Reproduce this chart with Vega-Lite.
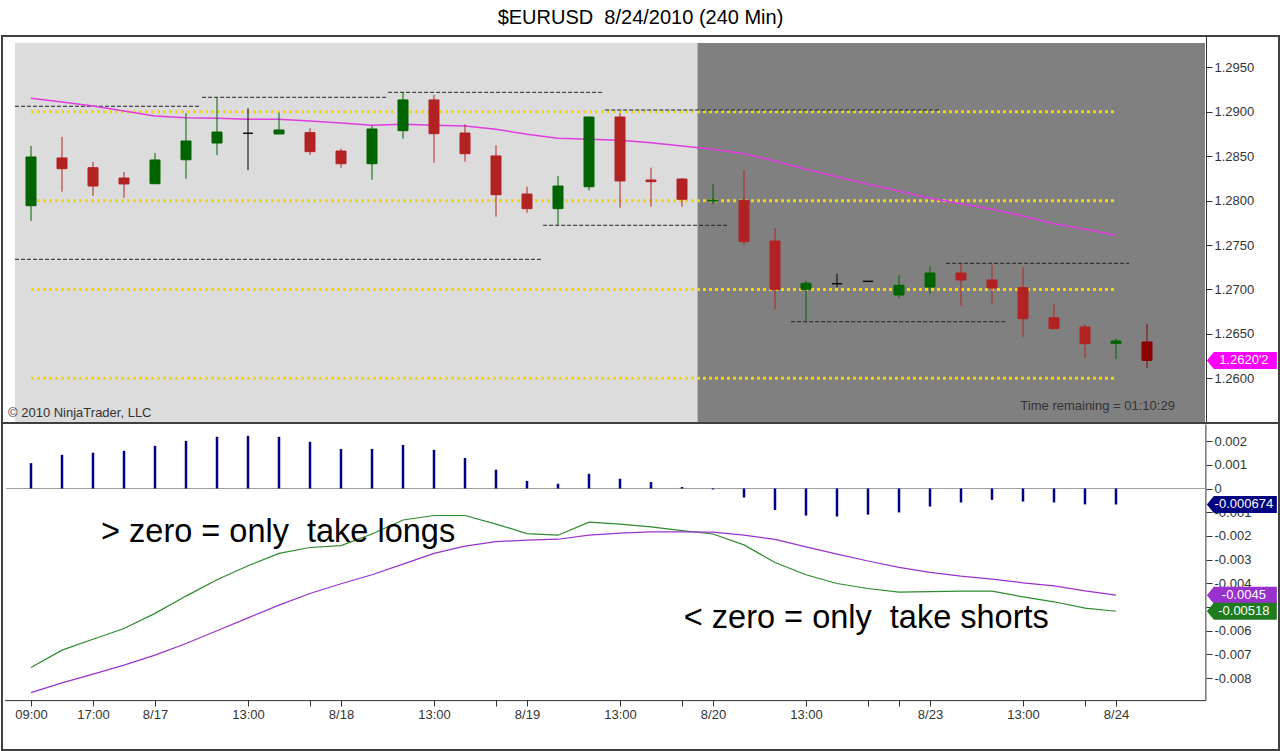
{
  "$schema": "https://vega.github.io/schema/vega-lite/v6.json",
  "padding": {"left": 1, "top": 8, "right": 2, "bottom": 2},
  "background": "white",
  "bounds": "flush",
  "title": {
    "text": "$EURUSD \u00a08/24/2010 (240 Min)",
    "anchor": "middle",
    "font": "Liberation Sans",
    "fontSize": 20,
    "fontWeight": "normal",
    "color": "#000000",
    "offset": 7
  },
  "config": {
    "font": "Liberation Sans",
    "view": {"stroke": "#404040", "strokeWidth": 2},
    "axis": {
      "labelFont": "Liberation Sans",
      "labelFontSize": 13,
      "labelColor": "#333333",
      "tickColor": "#333333",
      "domainColor": "#333333",
      "tickSize": 6,
      "labelPadding": 2,
      "labelOverlap": false,
      "grid": false
    }
  },
  "spacing": 0,
  "datasets": {
    "bars": [
      {"i": 1, "open": 1.27943, "high": 1.28616, "low": 1.27771, "close": 1.28492, "sma": 1.29153, "hist": 0.00107, "macd": -0.00755, "avg": -0.00861},
      {"i": 2, "open": 1.28481, "high": 1.28717, "low": 1.28101, "close": 1.28360, "sma": 1.29111, "hist": 0.00142, "macd": -0.00682, "avg": -0.00820},
      {"i": 3, "open": 1.28371, "high": 1.28436, "low": 1.28053, "close": 1.28165, "sma": 1.29066, "hist": 0.00151, "macd": -0.00636, "avg": -0.00783},
      {"i": 4, "open": 1.28255, "high": 1.28323, "low": 1.28034, "close": 1.28188, "sma": 1.29010, "hist": 0.00159, "macd": -0.00591, "avg": -0.00745},
      {"i": 5, "open": 1.28191, "high": 1.28537, "low": 1.28185, "close": 1.28458, "sma": 1.28953, "hist": 0.00180, "macd": -0.00527, "avg": -0.00703},
      {"i": 6, "open": 1.28461, "high": 1.28984, "low": 1.28247, "close": 1.28672, "sma": 1.28934, "hist": 0.00201, "macd": -0.00454, "avg": -0.00654},
      {"i": 7, "open": 1.28649, "high": 1.29167, "low": 1.28514, "close": 1.28773, "sma": 1.28928, "hist": 0.00218, "macd": -0.00385, "avg": -0.00600},
      {"i": 8, "open": 1.28759, "high": 1.29040, "low": 1.28345, "close": 1.28759, "sma": 1.28916, "hist": 0.00222, "macd": -0.00326, "avg": -0.00546},
      {"i": 9, "open": 1.28751, "high": 1.28991, "low": 1.28751, "close": 1.28796, "sma": 1.28916, "hist": 0.00218, "macd": -0.00274, "avg": -0.00492},
      {"i": 10, "open": 1.28766, "high": 1.28815, "low": 1.28514, "close": 1.28552, "sma": 1.28897, "hist": 0.00197, "macd": -0.00249, "avg": -0.00443},
      {"i": 11, "open": 1.28559, "high": 1.28585, "low": 1.28371, "close": 1.28416, "sma": 1.28875, "hist": 0.00167, "macd": -0.00241, "avg": -0.00402},
      {"i": 12, "open": 1.28416, "high": 1.28844, "low": 1.28236, "close": 1.28807, "sma": 1.28849, "hist": 0.00167, "macd": -0.00192, "avg": -0.00364},
      {"i": 13, "open": 1.28788, "high": 1.29224, "low": 1.28698, "close": 1.29134, "sma": 1.28860, "hist": 0.00184, "macd": -0.00133, "avg": -0.00319},
      {"i": 14, "open": 1.29134, "high": 1.29190, "low": 1.28428, "close": 1.28754, "sma": 1.28849, "hist": 0.00163, "macd": -0.00114, "avg": -0.00274},
      {"i": 15, "open": 1.28762, "high": 1.28860, "low": 1.28439, "close": 1.28529, "sma": 1.28841, "hist": 0.00129, "macd": -0.00114, "avg": -0.00243},
      {"i": 16, "open": 1.28503, "high": 1.28624, "low": 1.27820, "close": 1.28067, "sma": 1.28804, "hist": 0.00079, "macd": -0.00150, "avg": -0.00224},
      {"i": 17, "open": 1.28075, "high": 1.28157, "low": 1.27865, "close": 1.27910, "sma": 1.28747, "hist": 0.00032, "macd": -0.00190, "avg": -0.00218},
      {"i": 18, "open": 1.27910, "high": 1.28278, "low": 1.27723, "close": 1.28165, "sma": 1.28702, "hist": 0.00020, "macd": -0.00197, "avg": -0.00214},
      {"i": 19, "open": 1.28157, "high": 1.28942, "low": 1.28117, "close": 1.28942, "sma": 1.28691, "hist": 0.00062, "macd": -0.00142, "avg": -0.00197},
      {"i": 20, "open": 1.28942, "high": 1.28984, "low": 1.27921, "close": 1.28222, "sma": 1.28680, "hist": 0.00041, "macd": -0.00150, "avg": -0.00188},
      {"i": 21, "open": 1.28233, "high": 1.28371, "low": 1.27932, "close": 1.28214, "sma": 1.28653, "hist": 0.00027, "macd": -0.00162, "avg": -0.00183},
      {"i": 22, "open": 1.28244, "high": 1.28255, "low": 1.27932, "close": 1.28016, "sma": 1.28616, "hist": 0.00006, "macd": -0.00178, "avg": -0.00183},
      {"i": 23, "open": 1.27996, "high": 1.28184, "low": 1.27959, "close": 1.28006, "sma": 1.28579, "hist": -0.00004, "macd": -0.00192, "avg": -0.00184},
      {"i": 24, "open": 1.28004, "high": 1.28342, "low": 1.27501, "close": 1.27538, "sma": 1.28529, "hist": -0.00038, "macd": -0.00238, "avg": -0.00197},
      {"i": 25, "open": 1.27546, "high": 1.27696, "low": 1.26777, "close": 1.27002, "sma": 1.28447, "hist": -0.00091, "macd": -0.00312, "avg": -0.00215},
      {"i": 26, "open": 1.27002, "high": 1.27096, "low": 1.26637, "close": 1.27070, "sma": 1.28353, "hist": -0.00114, "macd": -0.00364, "avg": -0.00246},
      {"i": 27, "open": 1.27065, "high": 1.27178, "low": 1.27028, "close": 1.27065, "sma": 1.28270, "hist": -0.00118, "macd": -0.00401, "avg": -0.00277},
      {"i": 28, "open": 1.27092, "high": 1.27092, "low": 1.27092, "close": 1.27092, "sma": 1.28184, "hist": -0.00110, "macd": -0.00422, "avg": -0.00306},
      {"i": 29, "open": 1.26938, "high": 1.27160, "low": 1.26901, "close": 1.27047, "sma": 1.28109, "hist": -0.00101, "macd": -0.00437, "avg": -0.00333},
      {"i": 30, "open": 1.27028, "high": 1.27261, "low": 1.26953, "close": 1.27186, "sma": 1.28027, "hist": -0.00076, "macd": -0.00435, "avg": -0.00354},
      {"i": 31, "open": 1.27186, "high": 1.27290, "low": 1.26814, "close": 1.27107, "sma": 1.27966, "hist": -0.00059, "macd": -0.00433, "avg": -0.00370},
      {"i": 32, "open": 1.27107, "high": 1.27276, "low": 1.26844, "close": 1.27017, "sma": 1.27903, "hist": -0.00048, "macd": -0.00433, "avg": -0.00382},
      {"i": 33, "open": 1.27020, "high": 1.27253, "low": 1.26468, "close": 1.26671, "sma": 1.27828, "hist": -0.00055, "macd": -0.00457, "avg": -0.00398},
      {"i": 34, "open": 1.26682, "high": 1.26840, "low": 1.26559, "close": 1.26559, "sma": 1.27741, "hist": -0.00059, "macd": -0.00478, "avg": -0.00411},
      {"i": 35, "open": 1.26578, "high": 1.26608, "low": 1.26232, "close": 1.26390, "sma": 1.27678, "hist": -0.00067, "macd": -0.00505, "avg": -0.00432},
      {"i": 36, "open": 1.26394, "high": 1.26450, "low": 1.26214, "close": 1.26420, "sma": 1.27610, "hist": -0.000674, "macd": -0.00518, "avg": -0.00450},
      {"i": 37, "open": 1.26409, "high": 1.26615, "low": 1.26113, "close": 1.26202, "sma": null, "hist": null, "macd": null, "avg": null}
    ],
    "sessions": [
      {"from": 0.484, "to": 22.5, "session": "prior"},
      {"from": 22.5, "to": 38.87, "session": "current"}
    ],
    "levels": [
      {"price": 1.29},
      {"price": 1.28},
      {"price": 1.27},
      {"price": 1.26}
    ],
    "swings": [
      {"price": 1.29063, "from": 0.484, "to": 6.45},
      {"price": 1.29164, "from": 6.52, "to": 12.45},
      {"price": 1.29220, "from": 12.52, "to": 19.45},
      {"price": 1.29021, "from": 19.52, "to": 30.35},
      {"price": 1.27340, "from": 0.484, "to": 17.45},
      {"price": 1.27723, "from": 17.52, "to": 23.45},
      {"price": 1.27295, "from": 30.52, "to": 36.42},
      {"price": 1.26637, "from": 25.52, "to": 32.42}
    ],
    "priceMarker": [
      {"value": 1.26202, "label": "1.2620'2"}
    ],
    "macdMarkers": [
      {"series": "hist", "value": -0.000674, "label": "-0.000674"},
      {"series": "avg", "value": -0.0045, "label": "-0.0045"},
      {"series": "macd", "value": -0.00518, "label": "-0.00518"}
    ]
  },
  "vconcat": [
    {
      "width": 1277,
      "height": 387,
      "resolve": {"scale": {"color": "independent", "stroke": "independent"}},
      "layer": [
        {
          "data": {"name": "sessions"},
          "mark": "rect",
          "encoding": {
            "x": {"field": "from", "type": "quantitative", "scale": {"domain": [0.0645, 41.258], "nice": false, "zero": false, "padding": 0}, "axis": null},
            "x2": {"field": "to"},
            "y": {
              "datum": 1.29776, "type": "quantitative",
              "scale": {"domain": [1.25497, 1.29854], "nice": false, "zero": false, "padding": 0},
              "axis": {
                "orient": "right", "offset": -73, "title": null, "format": ".4f", "tickCount": 20,
                "values": [1.26, 1.265, 1.27, 1.275, 1.28, 1.285, 1.29, 1.295]
              }
            },
            "y2": {"datum": 1.25497},
            "color": {"field": "session", "type": "nominal", "scale": {"domain": ["prior", "current"], "range": ["#DCDCDC", "#808080"]}, "legend": null}
          }
        },
        {
          "data": {"name": "levels"},
          "mark": {"type": "rule", "color": "#F5D60A", "strokeWidth": 3, "strokeDash": [3, 3]},
          "encoding": {
            "x": {"datum": 1, "type": "quantitative", "axis": null},
            "x2": {"datum": 36},
            "y": {"field": "price", "type": "quantitative"}
          }
        },
        {
          "data": {"name": "swings"},
          "mark": {"type": "rule", "color": "#222222", "strokeWidth": 1, "strokeDash": [4, 2]},
          "encoding": {
            "x": {"field": "from", "type": "quantitative", "axis": null},
            "x2": {"field": "to"},
            "y": {"field": "price", "type": "quantitative"}
          }
        },
        {
          "data": {"name": "bars"},
          "transform": [{"filter": "datum.sma != null"}],
          "mark": {"type": "line", "color": "#E03CE0", "strokeWidth": 1.5},
          "encoding": {
            "x": {"field": "i", "type": "quantitative", "axis": null},
            "y": {"field": "sma", "type": "quantitative"}
          }
        },
        {
          "data": {"name": "bars"},
          "transform": [
            {"calculate": "datum.i == 37 ? 'live' : (datum.close > datum.open ? 'up' : (datum.close < datum.open ? 'down' : 'flat'))", "as": "dir"}
          ],
          "layer": [
            {
              "mark": {"type": "rule", "strokeWidth": 1},
              "encoding": {
                "x": {"field": "i", "type": "quantitative", "axis": null},
                "y": {"field": "low", "type": "quantitative"},
                "y2": {"field": "high"},
                "color": {"field": "dir", "type": "nominal", "scale": {"domain": ["up", "down", "flat", "live"], "range": ["#006400", "#B22222", "#000000", "#8B0000"]}, "legend": null}
              }
            },
            {
              "mark": {"type": "bar", "size": 10, "strokeWidth": 1},
              "encoding": {
                "x": {"field": "i", "type": "quantitative", "axis": null},
                "y": {"field": "open", "type": "quantitative"},
                "y2": {"field": "close"},
                "color": {"field": "dir", "type": "nominal", "scale": {"domain": ["up", "down", "flat", "live"], "range": ["#006400", "#B22222", "#000000", "#8B0000"]}, "legend": null},
                "stroke": {"field": "dir", "type": "nominal", "scale": {"domain": ["up", "down", "flat", "live"], "range": ["#006400", "#B22222", "#000000", "#8B0000"]}, "legend": null}
              }
            }
          ]
        },
        {
          "data": {"values": [{}]},
          "mark": {"type": "text", "text": "\u00a9 2010 NinjaTrader, LLC", "align": "left", "baseline": "alphabetic", "fontSize": 13, "color": "#333333"},
          "encoding": {
            "x": {"datum": 0.258, "type": "quantitative", "axis": null},
            "y": {"datum": 1.25564, "type": "quantitative"}
          }
        },
        {
          "data": {"values": [{}]},
          "mark": {"type": "text", "text": "Time remaining = 01:10:29", "align": "right", "baseline": "alphabetic", "fontSize": 13, "color": "#333333"},
          "encoding": {
            "x": {"datum": 37.9, "type": "quantitative", "axis": null},
            "y": {"datum": 1.25643, "type": "quantitative"}
          }
        },
        {
          "data": {"name": "priceMarker"},
          "layer": [
            {
              "mark": {"type": "point", "filled": true, "opacity": 1, "size": 4900, "strokeWidth": 0, "color": "#FF00FF", "shape": "M-1,0L-0.8,-0.243L1,-0.243L1,0.243L-0.8,0.243Z"},
              "encoding": {
                "x": {"datum": 40.06, "type": "quantitative", "axis": null},
                "y": {"field": "value", "type": "quantitative"}
              }
            },
            {
              "mark": {"type": "text", "align": "center", "baseline": "middle", "dx": 2, "fontSize": 13, "color": "#FFFFFF"},
              "encoding": {
                "x": {"datum": 40.06, "type": "quantitative", "axis": null},
                "y": {"field": "value", "type": "quantitative"},
                "text": {"field": "label"}
              }
            }
          ]
        }
      ]
    },
    {
      "width": 1277,
      "height": 327,
      "resolve": {"scale": {"color": "independent"}},
      "layer": [
        {
          "data": {"values": [{"level": 0}]},
          "mark": {"type": "rule", "color": "#A0A0A0", "strokeWidth": 1},
          "encoding": {
            "x": {
              "datum": 0.19, "type": "quantitative",
              "scale": {"domain": [0.0645, 41.258], "nice": false, "zero": false, "padding": 0},
              "axis": {
                "orient": "bottom", "offset": -50, "title": null, "domain": false, "tickCount": 40,
                "values": [1, 3, 5, 8, 10, 11, 14, 16, 17, 20, 22, 23, 26, 28, 29, 30, 33, 35, 36],
                "labelExpr": "['', '09:00', '', '17:00', '', '8/17', '', '', '13:00', '', '', '8/18', '', '', '13:00', '', '', '8/19', '', '', '13:00', '', '', '8/20', '', '', '13:00', '', '', '', '8/23', '', '', '13:00', '', '', '8/24'][datum.value]"
              }
            },
            "x2": {"datum": 38.87},
            "y": {
              "field": "level", "type": "quantitative",
              "scale": {"domain": [-0.011034, 0.002764], "nice": false, "zero": false},
              "axis": {
                "orient": "right", "offset": -73, "title": null, "domain": false, "tickCount": 20,
                "values": [0.002, 0.001, 0, -0.001, -0.002, -0.003, -0.004, -0.005, -0.006, -0.007, -0.008],
                "labelExpr": "datum.value == 0 ? '0' : (datum.value < 0 ? '-' : '') + format(abs(datum.value), '.3f')"
              }
            }
          }
        },
        {
          "data": {"values": [{}]},
          "layer": [
            {
              "mark": {"type": "rule", "color": "#333333", "strokeWidth": 1},
              "encoding": {
                "x": {"datum": 0.16, "type": "quantitative"},
                "x2": {"datum": 38.9},
                "y": {"datum": -0.00895, "type": "quantitative"}
              }
            },
            {
              "mark": {"type": "rule", "color": "#333333", "strokeWidth": 1},
              "encoding": {
                "x": {"datum": 38.9, "type": "quantitative"},
                "y": {"datum": 0.0027, "type": "quantitative"},
                "y2": {"datum": -0.00895}
              }
            }
          ]
        },
        {
          "data": {"name": "bars"},
          "transform": [{"filter": "datum.hist != null"}],
          "mark": {"type": "rule", "color": "#000080", "strokeWidth": 2.5},
          "encoding": {
            "x": {"field": "i", "type": "quantitative"},
            "y": {"field": "hist", "type": "quantitative"},
            "y2": {"datum": 0}
          }
        },
        {
          "data": {"name": "bars"},
          "transform": [{"filter": "datum.macd != null"}],
          "mark": {"type": "line", "color": "#2E8B2E", "strokeWidth": 1.2},
          "encoding": {
            "x": {"field": "i", "type": "quantitative"},
            "y": {"field": "macd", "type": "quantitative"}
          }
        },
        {
          "data": {"name": "bars"},
          "transform": [{"filter": "datum.avg != null"}],
          "mark": {"type": "line", "color": "#9932CC", "strokeWidth": 1.2},
          "encoding": {
            "x": {"field": "i", "type": "quantitative"},
            "y": {"field": "avg", "type": "quantitative"}
          }
        },
        {
          "data": {"values": [{}]},
          "mark": {"type": "text", "text": "> zero = only \u00a0take longs", "align": "left", "baseline": "alphabetic", "fontSize": 32.5, "color": "#000000"},
          "encoding": {
            "x": {"datum": 3.26, "type": "quantitative"},
            "y": {"datum": -0.00226, "type": "quantitative"}
          }
        },
        {
          "data": {"values": [{}]},
          "mark": {"type": "text", "text": "< zero = only \u00a0take shorts", "align": "left", "baseline": "alphabetic", "fontSize": 32.5, "color": "#000000"},
          "encoding": {
            "x": {"datum": 22.06, "type": "quantitative"},
            "y": {"datum": -0.00587, "type": "quantitative"}
          }
        },
        {
          "data": {"name": "macdMarkers"},
          "layer": [
            {
              "mark": {"type": "point", "filled": true, "opacity": 1, "size": 4900, "strokeWidth": 0, "shape": "M-1,0L-0.8,-0.243L1,-0.243L1,0.243L-0.8,0.243Z"},
              "encoding": {
                "x": {"datum": 40.06, "type": "quantitative"},
                "y": {"field": "value", "type": "quantitative"},
                "color": {"field": "series", "type": "nominal", "scale": {"domain": ["hist", "avg", "macd"], "range": ["#000080", "#9932CC", "#1E7B1E"]}, "legend": null}
              }
            },
            {
              "mark": {"type": "text", "align": "center", "baseline": "middle", "dx": 2, "fontSize": 13, "color": "#FFFFFF"},
              "encoding": {
                "x": {"datum": 40.06, "type": "quantitative"},
                "y": {"field": "value", "type": "quantitative"},
                "text": {"field": "label"}
              }
            }
          ]
        }
      ]
    }
  ]
}
